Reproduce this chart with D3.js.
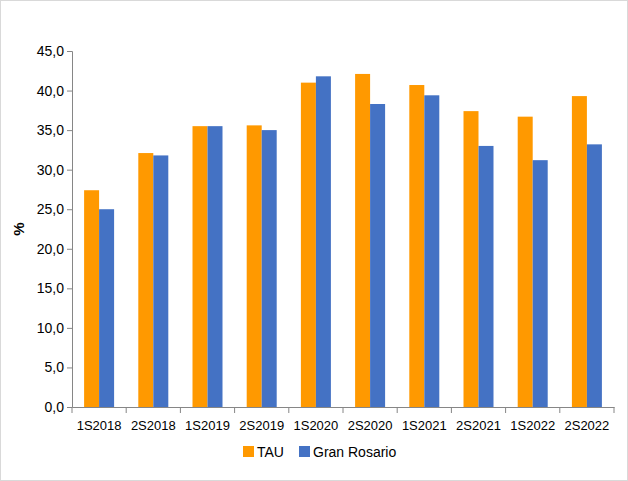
<!DOCTYPE html>
<html><head><meta charset="utf-8">
<script src="https://cdn.jsdelivr.net/npm/d3@7"></script>
<style>body{margin:0;background:#fff}text{font-family:"Liberation Sans",Arial,sans-serif}</style>
</head><body><svg id="c" width="628" height="481"></svg>
<script>
const categories=["1S2018","2S2018","1S2019","2S2019","1S2020","2S2020","1S2021","2S2021","1S2022","2S2022"];
const tau=[27.4,32.1,35.5,35.6,41.0,42.1,40.7,37.4,36.7,39.3];
const gr=[25.0,31.8,35.5,35.0,41.8,38.3,39.4,33.0,31.2,33.2];
const seriesNames=["TAU","Gran Rosario"];
const colors=["#FF9900","#4472C4"];
const yTicks=d3.range(0,46,5);
const svg=d3.select("#c");
svg.append("rect").attr("x",0.5).attr("y",0.5).attr("width",627).attr("height",480).attr("fill","none").attr("stroke","#d9d9d9");
const m={l:72,r:614,t:51,b:407};
const x=d3.scaleBand().domain(categories).range([m.l,m.r]);
const y=d3.scaleLinear().domain([0,45]).range([m.b,m.t]);
const ya=svg.append("g").attr("transform",`translate(${m.l},0)`).call(d3.axisLeft(y).tickValues(yTicks).tickSize(5).tickFormat(d=>d.toFixed(1).replace(".",",")));
ya.selectAll("text").attr("font-size",14).attr("fill","#000");
ya.selectAll("line,path").attr("stroke","#868686");
const xa=svg.append("g").attr("transform",`translate(0,${m.b})`).call(d3.axisBottom(x).tickSize(0).tickPadding(14));
xa.select("path").attr("stroke","#868686");
xa.selectAll("text").attr("font-size",13).attr("fill","#000");
svg.append("g").selectAll("line").data(d3.range(categories.length+1)).join("line")
 .attr("x1",i=>m.l+i*x.step()).attr("x2",i=>m.l+i*x.step()).attr("y1",m.b).attr("y2",m.b+6).attr("stroke","#868686");
const bw=15;
[tau,gr].forEach((s,k)=>{
 svg.append("g").selectAll("rect").data(s).join("rect")
  .attr("x",(d,i)=>x(categories[i])+x.bandwidth()/2-bw+k*bw).attr("width",bw)
  .attr("y",d=>y(d)).attr("height",d=>y(0)-y(d)).attr("fill",colors[k]);
});
svg.append("text").attr("transform","translate(24,229) rotate(-90)").attr("text-anchor","middle").attr("font-size",15).attr("font-weight","bold").text("%");
const lg=svg.append("g").attr("transform","translate(243,452)");
let off=0;
seriesNames.forEach((n,i)=>{
 const g=lg.append("g").attr("transform",`translate(${off},0)`);
 g.append("rect").attr("width",11).attr("height",11).attr("y",-6).attr("fill",colors[i]);
 g.append("text").attr("x",14).attr("y",5).attr("font-size",14).text(n);
 off+= i==0?56:0;
});
</script></body></html>
